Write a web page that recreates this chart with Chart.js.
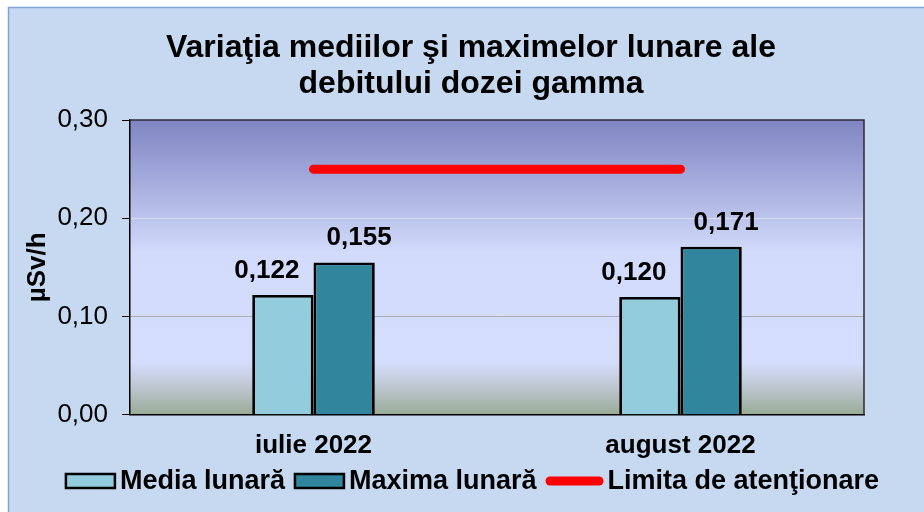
<!DOCTYPE html>
<html>
<head>
<meta charset="utf-8">
<script src="https://cdn.jsdelivr.net/npm/chart.js@4/dist/chart.umd.min.js"></script>
<style>
  html, body { margin: 0; padding: 0; background: #ffffff; }
  #wrap { width: 924px; height: 512px; position: relative; }
</style>
</head>
<body>
<div id="wrap"><canvas id="c" width="924" height="512"></canvas></div>
<script>
// ---- data ----
const categories = ['iulie 2022', 'august 2022'];
const mediaLunara = [0.122, 0.120];
const maximaLunara = [0.155, 0.171];
const limitaAtentionare = [0.25, 0.25];
const seriesNames = ['Media lunară', 'Maxima lunară', 'Limita de atenţionare'];
const titleLines = ['Variaţia mediilor şi maximelor lunare ale', 'debitului dozei gamma'];
const yAxisTitle = 'µSv/h';
const yMin = 0, yMax = 0.3, yStep = 0.1;

const FONT = '"Liberation Sans", Arial, sans-serif';
const fmt = v => v.toFixed(2).replace('.', ',');
const fmt3 = v => v.toFixed(3).replace('.', ',');

const framePlugin = {
  id: 'frame',
  beforeDraw(chart) {
    const ctx = chart.ctx, a = chart.chartArea;
    ctx.save();
    ctx.fillStyle = '#ffffff';
    ctx.fillRect(0, 0, chart.width, chart.height);
    ctx.fillStyle = '#c6d9f0';
    ctx.fillRect(8, 7, chart.width - 8, chart.height - 7);
    ctx.strokeStyle = '#7fa3d6';
    ctx.lineWidth = 1.5;
    ctx.beginPath();
    ctx.moveTo(8.5, chart.height);
    ctx.lineTo(8.5, 7.5);
    ctx.lineTo(chart.width, 7.5);
    ctx.stroke();
    // plot area gradient
    const g = ctx.createLinearGradient(0, a.top, 0, a.bottom);
    g.addColorStop(0, '#7f85c1');
    g.addColorStop(0.2, '#a3aadb');
    g.addColorStop(0.45, '#d2dbfb');
    g.addColorStop(0.82, '#d4ddfc');
    g.addColorStop(0.9, '#c0c8d4');
    g.addColorStop(1, '#98ab96');
    ctx.fillStyle = g;
    ctx.fillRect(a.left, a.top, a.right - a.left, a.bottom - a.top);
    // title
    ctx.fillStyle = '#000000';
    ctx.font = 'bold 32px ' + FONT;
    ctx.textAlign = 'center';
    ctx.textBaseline = 'alphabetic';
    ctx.fillText(titleLines[0], 471, 57);
    ctx.fillText(titleLines[1], 471, 93);
    ctx.restore();
  },
  afterDraw(chart) {
    const ctx = chart.ctx, a = chart.chartArea;
    ctx.save();
    ctx.strokeStyle = '#2a2a3a';
    ctx.lineWidth = 1.5;
    ctx.beginPath();
    ctx.moveTo(a.left, a.top);
    ctx.lineTo(a.right, a.top);
    ctx.lineTo(a.right, a.bottom);
    ctx.stroke();
    // legend
    const ds = chart.data.datasets;
    ctx.font = 'bold 27px ' + FONT;
    ctx.textBaseline = 'middle';
    ctx.textAlign = 'left';
    const boxW = 51, boxH = 14, gapText = 4, gapItem = 9, lineW = 58;
    const widths = ds.map((d, i) => (d.type === 'line' ? lineW : boxW) + gapText + ctx.measureText(d.label).width);
    const total = widths.reduce((s, w) => s + w, 0) + gapItem * (ds.length - 1);
    let x = 472 - total / 2;
    const cy = 481;
    ds.forEach((d, i) => {
      if (d.type === 'line') {
        ctx.strokeStyle = d.borderColor;
        ctx.lineWidth = 9;
        ctx.lineCap = 'round';
        ctx.beginPath();
        ctx.moveTo(x + 4.5, cy);
        ctx.lineTo(x + lineW - 4.5, cy);
        ctx.stroke();
        x += lineW;
      } else {
        ctx.fillStyle = d.backgroundColor;
        ctx.fillRect(x, cy - boxH / 2, boxW, boxH);
        ctx.strokeStyle = '#000000';
        ctx.lineWidth = 2.5;
        ctx.lineCap = 'butt';
        ctx.strokeRect(x + 1, cy - boxH / 2, boxW - 2, boxH);
        x += boxW;
      }
      x += gapText;
      ctx.fillStyle = '#000000';
      ctx.fillText(d.label, x, cy + 1);
      x += ctx.measureText(d.label).width + gapItem;
    });
    ctx.restore();
  }
};

const valueLabels = {
  id: 'valueLabels',
  afterDatasetsDraw(chart) {
    const ctx = chart.ctx;
    const shift = [-16, 15];
    ctx.save();
    ctx.font = 'bold 26px ' + FONT;
    ctx.fillStyle = '#000000';
    ctx.textAlign = 'center';
    ctx.textBaseline = 'alphabetic';
    [0, 1].forEach(di => {
      const meta = chart.getDatasetMeta(di);
      meta.data.forEach((el, i) => {
        const v = chart.data.datasets[di].data[i];
        ctx.fillText(fmt3(v), el.x + shift[di], el.y - 17);
      });
    });
    ctx.restore();
  }
};

new Chart(document.getElementById('c'), {
  type: 'bar',
  data: {
    labels: categories,
    datasets: [
      { type: 'bar', label: seriesNames[0], data: mediaLunara, backgroundColor: '#93cddd', borderColor: '#000000', borderWidth: 2.8, categoryPercentage: 0.334, barPercentage: 1.0, order: 2 },
      { type: 'bar', label: seriesNames[1], data: maximaLunara, backgroundColor: '#31859c', borderColor: '#000000', borderWidth: 2.8, categoryPercentage: 0.334, barPercentage: 1.0, order: 2 },
      { type: 'line', label: seriesNames[2], data: limitaAtentionare, borderColor: '#ff0000', backgroundColor: '#ff0000', borderWidth: 9, borderCapStyle: 'round', pointRadius: 0, fill: false, order: 1 }
    ]
  },
  options: {
    responsive: false,
    animation: false,
    devicePixelRatio: 1,
    layout: { padding: { left: 0, right: 60, top: 120, bottom: 36 } },
    plugins: { legend: { display: false }, title: { display: false }, tooltip: { enabled: false } },
    scales: {
      x: {
        grid: { display: false, drawTicks: false },
        border: { display: true, color: '#000000', width: 1.5 },
        ticks: { color: '#000000', font: { family: FONT, size: 26, weight: 'bold' }, padding: 15, maxRotation: 0 }
      },
      y: {
        min: yMin, max: yMax,
        afterFit(scale) { scale.width = 130; },
        ticks: { stepSize: yStep, color: '#000000', font: { family: FONT, size: 26 }, padding: 14, callback: v => fmt(v) },
        grid: {
          drawOnChartArea: true,
          tickLength: 8,
          tickColor: '#000000',
          tickWidth: 1,
          lineWidth: 1,
          color: ctx => {
            const v = Math.round((ctx.tick ? ctx.tick.value : 0) * 100) / 100;
            if (v === 0.1) return '#a9aeb6';
            if (v === 0.2) return '#dadff6';
            return 'rgba(0,0,0,0)';
          }
        },
        border: { display: true, color: '#000000', width: 1.5 },
        title: { display: true, text: yAxisTitle, color: '#000000', font: { family: FONT, size: 26, weight: 'bold' }, padding: { top: 22, bottom: 0 } }
      }
    }
  },
  plugins: [framePlugin, valueLabels]
});
</script>
</body>
</html>
